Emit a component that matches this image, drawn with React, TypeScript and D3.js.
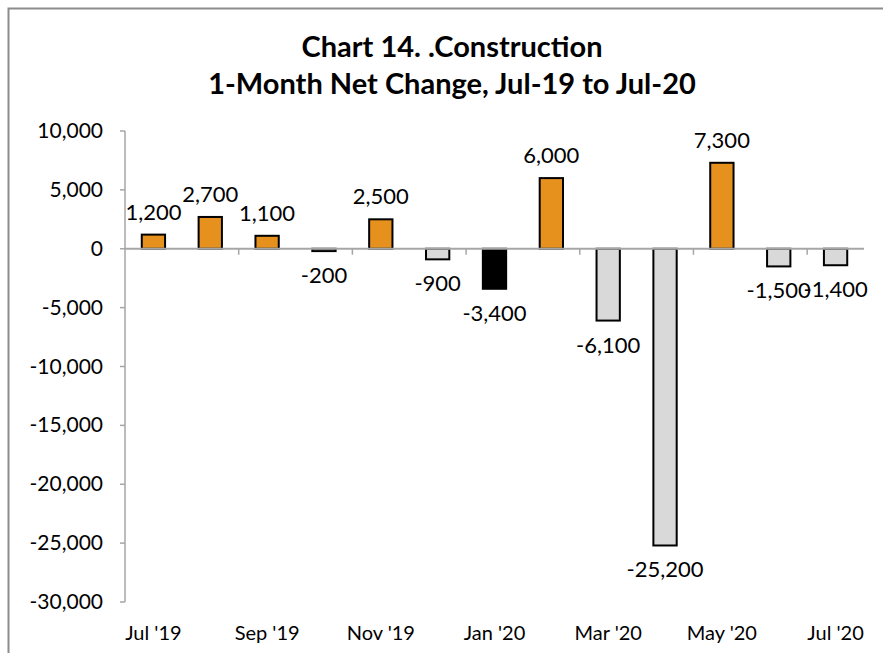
import React from "react";
import * as d3 from "d3";

// Meses y variación neta mensual
const months = [
  "Jul '19", "Aug '19", "Sep '19", "Oct '19", "Nov '19", "Dec '19",
  "Jan '20", "Feb '20", "Mar '20", "Apr '20", "May '20", "Jun '20", "Jul '20",
];
const netChange = [1200, 2700, 1100, -200, 2500, -900, -3400, 6000, -6100, -25200, 7300, -1500, -1400];
const yTicks = [10000, 5000, 0, -5000, -10000, -15000, -20000, -25000, -30000];
const highlightMonth = "Jan '20";
const titleLines = ["Chart 14. .Construction", "1-Month Net Change, Jul-19 to Jul-20"];

const App: React.FC = () => {
  const width = 883;
  const height = 653;
  const margin = { top: 131, right: 20, bottom: 51, left: 125 };
  const font = "Lato, 'Open Sans', sans-serif";

  const x = d3.scaleBand<string>()
    .domain(months)
    .range([margin.left, 864])
    .paddingInner(0.59)
    .paddingOuter(0.295);

  const xOuter = d3.scaleBand<string>()
    .domain(months)
    .range([margin.left, 864]);

  const y = d3.scaleLinear()
    .domain([-30000, 10000])
    .range([height - margin.bottom, margin.top]);

  // guion normal en lugar del signo menos unicode
  const fmt = d3.formatLocale({ decimal: ".", thousands: ",", grouping: [3], currency: ["$", ""], minus: "-" }).format(",");

  const fillFor = (m: string, v: number) =>
    m === highlightMonth ? "#000000" : v >= 0 ? "#E6901E" : "#D9D9D9";

  return (
    <svg width={width} height={height} style={{ position: "absolute", left: 0, top: 0 }}>
      <rect x={0} y={0} width={width} height={height} fill="#fff" />
      {/* Marco */}
      <rect x={8.5} y={8.5} width={width + 20} height={height + 20} fill="none" stroke="#8c8c8c" strokeWidth={2} />

      {/* Título */}
      {titleLines.map((t, i) => (
        <text key={i} x={452} y={57 + i * 37} textAnchor="middle" fontFamily={font}
          fontWeight="bold" fontSize={29} fill="#000">{t}</text>
      ))}

      {/* Eje Y */}
      <line x1={margin.left} x2={margin.left} y1={y(10000)} y2={y(-30000)} stroke="#a6a6a6" strokeWidth={1.5} />
      {yTicks.map((t, i) => (
        <g key={i}>
          <line x1={margin.left - 5} x2={margin.left} y1={y(t)} y2={y(t)} stroke="#a6a6a6" strokeWidth={1.5} />
          <text x={margin.left - 22} y={y(t) + 7} textAnchor="end" fontFamily={font} fontSize={21} fill="#000">
            {fmt(t)}
          </text>
        </g>
      ))}

      {/* Barras */}
      {months.map((m, i) => {
        const v = netChange[i];
        const y0 = y(0);
        const yv = y(v);
        return (
          <rect key={m} x={x(m)} y={Math.min(y0, yv)} width={x.bandwidth()} height={Math.abs(yv - y0)}
            fill={fillFor(m, v)} stroke="#000" strokeWidth={2} />
        );
      })}

      {/* Eje X */}
      <line x1={margin.left} x2={864} y1={y(0)} y2={y(0)} stroke="#a6a6a6" strokeWidth={2} />
      {months.map((m, i) => (i % 2 === 0 && i > 0 ? (
        <line key={m} x1={xOuter(m)} x2={xOuter(m)} y1={y(0)} y2={y(0) + 6} stroke="#a6a6a6" strokeWidth={1.5} />
      ) : null))}
      {months.map((m, i) => (i % 2 === 0 ? (
        <text key={m} x={(xOuter(m) ?? 0) + xOuter.bandwidth() / 2} y={640} textAnchor="middle"
          fontFamily={font} fontSize={20} fill="#000">{m}</text>
      ) : null))}

      {/* Etiquetas de datos */}
      {months.map((m, i) => {
        const v = netChange[i];
        const cx = (x(m) ?? 0) + x.bandwidth() / 2;
        const ty = v >= 0 ? y(v) - 15 : y(v) + 32;
        return (
          <text key={m} x={cx} y={ty} textAnchor="middle" fontFamily={font} fontSize={22} fill="#000">
            {fmt(v)}
          </text>
        );
      })}
    </svg>
  );
};

export default App;
